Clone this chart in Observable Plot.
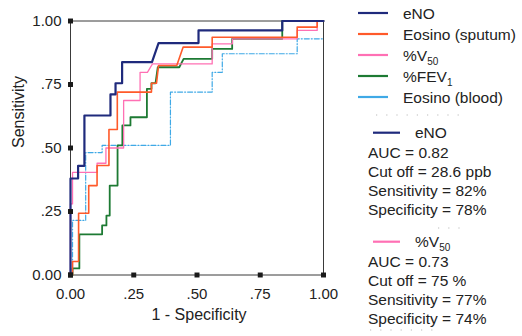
<!DOCTYPE html>
<html><head><meta charset="utf-8">
<script src="https://cdn.jsdelivr.net/npm/d3@7"></script>
<script src="https://cdn.jsdelivr.net/npm/@observablehq/plot@0.6"></script>
<style>
body{margin:0;background:#fff;}
#wrap{position:relative;width:522px;height:336px;}
#wrap svg{display:block;}
#overlay{position:absolute;left:0;top:0;pointer-events:none;}
</style></head><body><div id="wrap"></div>
<script>
// ---- data ----
const seriesNames = ["eNO", "Eosino (sputum)", "%V50", "%FEV1", "Eosino (blood)"];
const seriesColors = ["#1f2a7c", "#ff5a2a", "#ff70b4", "#1d7a33", "#3fa9e6"];

const eno_x = [0,0,0.03,0.03,0.055,0.055,0.158,0.158,0.178,0.178,0.204,0.204,0.322,0.348,0.506,0.506,0.837,0.837,1];
const eno_y = [0,0.38,0.38,0.43,0.43,0.628,0.628,0.711,0.711,0.755,0.755,0.838,0.838,0.913,0.913,0.963,0.963,1,1];

const sputum_x = [0,0.008,0.008,0.032,0.032,0.072,0.072,0.105,0.105,0.152,0.152,0.185,0.185,0.32,0.32,0.34,0.348,0.42,0.445,0.56,0.56,0.896,0.896,0.975,0.975,1];
const sputum_y = [0,0,0.053,0.053,0.243,0.243,0.352,0.352,0.431,0.431,0.573,0.573,0.72,0.72,0.755,0.755,0.825,0.825,0.897,0.897,0.936,0.936,0.976,0.976,1,1];

const v50_x = [0,0,0.008,0.008,0.105,0.105,0.14,0.14,0.21,0.21,0.275,0.275,0.304,0.324,0.56,0.56,0.64,0.64,0.896,0.896,0.975,0.975,1];
const v50_y = [0,0.28,0.28,0.404,0.404,0.44,0.44,0.5,0.5,0.687,0.687,0.798,0.798,0.831,0.831,0.91,0.91,0.93,0.93,0.963,0.963,1,1];

const fev_x = [0,0.008,0.008,0.035,0.035,0.125,0.125,0.142,0.142,0.155,0.155,0.186,0.186,0.205,0.205,0.237,0.237,0.302,0.302,0.32,0.32,0.336,0.345,0.43,0.447,0.56,0.56,0.639,0.639,0.837,0.837,1];
const fev_y = [0,0,0.026,0.026,0.16,0.16,0.195,0.195,0.234,0.234,0.352,0.352,0.51,0.51,0.589,0.589,0.621,0.621,0.733,0.733,0.755,0.755,0.818,0.818,0.851,0.851,0.89,0.89,0.93,0.93,1,1];

const blood_x = [0,0.008,0.008,0.06,0.06,0.125,0.125,0.395,0.395,0.56,0.56,0.6,0.6,0.896,0.896,1];
const blood_y = [0,0,0.215,0.215,0.482,0.482,0.51,0.51,0.72,0.72,0.798,0.798,0.871,0.871,0.93,0.93];

const tickValues = [0, 0.25, 0.5, 0.75, 1];
const tickLabels = ["0.00", ".25", ".50", ".75", "1.00"];

const stats1 = ["AUC = 0.82", "Cut off = 28.6 ppb", "Sensitivity = 82%", "Specificity = 78%"];
const stats2 = ["AUC = 0.73", "Cut off = 75 %", "Sensitivity = 77%", "Specificity = 74%"];

// ---- build ----
const toPts = (xs, ys) => xs.map((x, i) => ({x, y: ys[i]}));
const curves = [
  {pts: toPts(blood_x, blood_y), c: seriesColors[4], w: 1.2, dash: "5,2,1,2"},
  {pts: toPts(fev_x, fev_y), c: seriesColors[3], w: 1.8, dash: null},
  {pts: toPts(v50_x, v50_y), c: seriesColors[2], w: 1.3, dash: null},
  {pts: toPts(sputum_x, sputum_y), c: seriesColors[1], w: 1.6, dash: null},
  {pts: toPts(eno_x, eno_y), c: seriesColors[0], w: 2.2, dash: null}
];
const fmt = d => tickLabels[tickValues.indexOf(d)];
const FONT = "'Liberation Sans', Arial, sans-serif";

const chart = Plot.plot({
  width: 522, height: 336,
  marginLeft: 70, marginRight: 199, marginTop: 20.5, marginBottom: 61.5,
  x: {domain: [0, 1]},
  y: {domain: [0, 1]},
  style: {fontFamily: FONT, fontSize: "15px", color: "#222", background: "#fff"},
  marks: [
    Plot.ruleY([0, 1], {stroke: "#3a3a3a", strokeWidth: 1}),
    Plot.ruleX([0, 1], {stroke: "#3a3a3a", strokeWidth: 1}),
    ...curves.map(s => Plot.line(s.pts, {x: "x", y: "y", stroke: s.c, strokeWidth: s.w, strokeDasharray: s.dash, curve: "linear"})),
    Plot.dot(tickValues, {x: d => d, y: 0, symbol: "square", r: 2.8, fill: "#1a1a1a", stroke: null}),
    Plot.dot(tickValues, {x: 0, y: d => d, symbol: "square", r: 2.8, fill: "#1a1a1a", stroke: null}),
    Plot.axisX(tickValues, {tickSize: 0, tickPadding: 13, tickFormat: fmt, label: null, fill: "#222"}),
    Plot.axisY(tickValues, {tickSize: 0, tickPadding: 9, tickFormat: fmt, label: null, fill: "#222"}),
    Plot.text(["1 - Specificity"], {frameAnchor: "bottom", dy: 45, dx: 2, fontSize: 16, fill: "#222"}),
    Plot.text(["Sensitivity"], {frameAnchor: "left", dx: -52, rotate: -90, fontSize: 16, fill: "#222"})
  ]
});
const wrap = document.getElementById("wrap");
wrap.appendChild(chart);

// ---- legend overlay ----
const ov = d3.select(wrap).append("svg").attr("id", "overlay")
  .attr("width", 522).attr("height", 336)
  .style("font-family", FONT).style("font-size", "15.5px");

function label(g, x, y, name) {
  const t = g.append("text").attr("x", x).attr("y", y).attr("fill", "#222");
  if (name === "%V50") {
    t.append("tspan").text("%V");
    t.append("tspan").attr("dy", 4).style("font-size", "10px").text("50");
  } else if (name === "%FEV1") {
    t.append("tspan").text("%FEV");
    t.append("tspan").attr("dy", 4).style("font-size", "10px").text("1");
  } else t.text(name);
}
const rowY = [13, 34, 55, 76, 97];
seriesNames.forEach((n, i) => {
  ov.append("line").attr("x1", 358).attr("x2", 388).attr("y1", rowY[i]).attr("y2", rowY[i])
    .attr("stroke", seriesColors[i]).attr("stroke-width", 2.2);
  label(ov, 403, rowY[i] + 5.5, n);
});
function dots(y, x1, x2) {
  ov.append("line").attr("x1", x1).attr("x2", x2).attr("y1", y).attr("y2", y)
    .attr("stroke", "#bbb").attr("stroke-width", 1.2).attr("stroke-dasharray", "1.2,9");
}
dots(115, 376, 464);
function block(y0, name, color, lines) {
  ov.append("line").attr("x1", 373).attr("x2", 400).attr("y1", y0).attr("y2", y0)
    .attr("stroke", color).attr("stroke-width", 2.2);
  label(ov, 415, y0 + 5.5, name);
  lines.forEach((s, i) => {
    ov.append("text").attr("x", 368).attr("y", y0 + 20 + i * 19 + 5.5).attr("fill", "#222").text(s);
  });
}
block(132.7, "eNO", seriesColors[0], stats1);
dots(228, 438, 462);
block(241.7, "%V50", seriesColors[2], stats2);
dots(330, 370, 434);
</script></body></html>
